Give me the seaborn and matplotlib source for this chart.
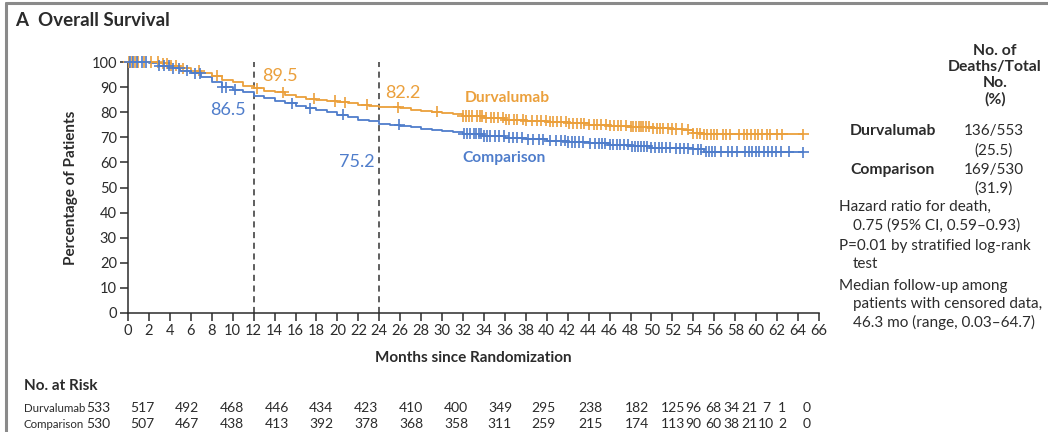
import numpy as np
import pandas as pd
import matplotlib
matplotlib.use("Agg")
import matplotlib.pyplot as plt
from matplotlib.lines import Line2D
import seaborn as sns

# Kaplan-Meier step values (percent surviving) at each month
durva_months = [0, 2, 3, 4, 5, 6, 7, 8, 9, 10, 11, 12, 13, 14, 15, 16, 17, 18, 19, 20,
                21, 22, 23, 24, 25, 26, 27, 28, 29, 30, 31, 32, 34, 36, 38, 40, 42, 44,
                46, 48, 50, 52, 53, 54, 55, 64.5]
durva_pct = [100, 100, 99.5, 98.5, 97.5, 96.5, 95.5, 94.5, 93, 92, 90.5, 89.5, 88.5, 88,
             87, 86, 85.3, 85, 84.5, 84, 83.5, 83, 82.6, 82.2, 82, 81.5, 81, 80.5, 80.2,
             79.8, 79.2, 78.5, 77.8, 77, 76.6, 76.2, 75.6, 75, 74.6, 74.2, 73.6, 73.3,
             73.0, 71.6, 71.2, 71.2]

comp_months = [0, 1, 2, 3, 4, 5, 6, 7, 8, 9, 10, 11, 12, 13, 14, 15, 16, 17, 18, 19, 20,
               21, 22, 23, 24, 25, 26, 27, 28, 29, 30, 31, 32, 34, 36, 38, 40, 42, 44,
               46, 48, 50, 52, 54, 55, 64.5]
comp_pct = [100, 100, 99.5, 98.5, 97.5, 96.5, 95.5, 94, 92, 90, 89, 88, 86.5, 85.5, 84.5,
            83.5, 82.5, 81.5, 81, 80, 79, 78, 77, 76.5, 75.2, 75, 74.5, 74, 73.5, 73,
            72.5, 72, 71.5, 70.5, 69.8, 69.2, 68.6, 68.1, 67.6, 67, 66.4, 65.9, 65.6,
            65.2, 64.2, 64.0]

# Censoring times (months)
durva_censor = [0.1, 0.4, 0.7, 1.0, 1.5, 2.2, 2.9, 3.3, 3.7, 4.1, 4.6, 5.3, 6.8, 8.5,
                12.3, 14.8, 17.8, 19.8, 20.7, 22.8, 25.8, 29.5,
                32.0, 32.3, 32.6, 32.9, 33.3, 33.6, 33.8, 34.2, 34.7, 35.0, 35.3, 35.8,
                36.1, 36.4, 36.9, 37.2, 37.7, 38.0, 38.6, 39.1, 39.4, 39.9, 40.3, 40.6,
                41.0, 41.4, 41.8, 42.1, 42.5, 42.9, 43.3, 43.6, 44.0, 44.5, 44.8, 45.2,
                45.7, 46.0, 46.4, 46.8, 47.1, 47.6, 48.0, 48.2, 48.5, 48.8, 49.0, 49.2,
                49.5, 49.8, 50.1, 50.5, 50.8, 51.1, 51.6, 52.0, 52.3, 52.9, 53.5, 54.0,
                54.3, 54.6, 55.0, 55.3, 55.7, 56.0, 56.3, 56.8, 57.1, 57.5, 58.4, 58.8,
                59.1, 59.5, 59.9, 60.2, 60.6, 61.0, 61.3, 62.0, 62.5, 64.5]
comp_censor = [0.2, 0.5, 0.9, 1.3, 1.7, 3.0, 3.4, 3.9, 4.3, 4.9, 5.6, 6.4, 6.9, 9.0, 9.4,
               10.2, 15.7, 17.4, 20.5, 25.9,
               32.1, 32.4, 32.7, 33.0, 33.2, 33.5, 33.7, 34.0, 34.3, 34.6, 35.1, 35.4,
               35.9, 36.4, 36.8, 37.2, 37.6, 38.2, 38.7, 39.3, 39.6, 40.3, 40.9, 41.4,
               41.7, 42.0, 42.4, 42.7, 43.1, 43.5, 44.1, 44.6, 45.0, 45.3, 45.6, 46.0,
               46.3, 46.7, 47.0, 47.4, 47.8, 48.1, 48.4, 48.7, 49.0, 49.3, 49.6, 50.0,
               50.3, 50.7, 51.0, 51.4, 51.8, 52.3, 52.7, 53.1, 53.5, 54.0, 54.4, 54.7,
               55.2, 55.5, 55.8, 56.1, 56.6, 57.3, 57.7, 58.2, 58.9, 59.3, 59.6, 60.0,
               60.3, 60.7, 61.1, 61.5, 61.9, 62.4, 63.1, 64.5]

landmark_months = [12, 24]
durva_landmark = [89.5, 82.2]
comp_landmark = [86.5, 75.2]

x_ticks = list(range(0, 67, 2))
y_ticks = list(range(0, 101, 10))

risk_durva = [533, 517, 492, 468, 446, 434, 423, 410, 400, 349, 295, 238, 182, 125, 96,
              68, 34, 21, 7, 1, 0]
risk_comp = [530, 507, 467, 438, 413, 392, 378, 368, 358, 311, 259, 215, 174, 113, 90,
             60, 38, 21, 10, 2, 0]

ORANGE = "#EBA03C"
BLUE = "#4F7DCB"
INK = "#2b2b2b"

sns.set_theme(style="ticks")
plt.rcParams["font.family"] = ["Lato", "DejaVu Sans"]

W, H = 1048, 432
fig = plt.figure(figsize=(W / 100, H / 100), dpi=100)


def fx(x):
    return x / W


def fy(y):
    return 1 - y / H


ax = fig.add_axes([fx(128), fy(313), fx(819 - 128), (313 - 62) / H])

curves = pd.concat([
    pd.DataFrame({"month": durva_months, "pct": durva_pct, "arm": "Durvalumab"}),
    pd.DataFrame({"month": comp_months, "pct": comp_pct, "arm": "Comparison"}),
])
palette = {"Durvalumab": ORANGE, "Comparison": BLUE}
sns.lineplot(data=curves, x="month", y="pct", hue="arm", palette=palette,
             drawstyle="steps-post", estimator=None, linewidth=1.3, legend=False,
             ax=ax, clip_on=False, zorder=3)


def step_value(months, pct, t):
    idx = np.searchsorted(months, t, side="right") - 1
    return np.asarray(pct)[idx]


censor = pd.concat([
    pd.DataFrame({"month": durva_censor,
                  "pct": step_value(durva_months, durva_pct, durva_censor),
                  "arm": "Durvalumab"}),
    pd.DataFrame({"month": comp_censor,
                  "pct": step_value(comp_months, comp_pct, comp_censor),
                  "arm": "Comparison"}),
])
sns.scatterplot(data=censor, x="month", y="pct", hue="arm", palette=palette,
                marker="+", s=65, linewidth=1.2, legend=False, ax=ax,
                clip_on=False, zorder=4)

for m in landmark_months:
    ax.axvline(m, ymin=0, ymax=1, color="#333333", linestyle=(0, (4, 3)),
               linewidth=1.1, zorder=2)

# landmark survival labels
lfs = 13
ax.text(landmark_months[0] + 0.8, durva_landmark[0] + 5.0, f"{durva_landmark[0]}",
        color=ORANGE, fontsize=lfs, ha="left", va="center")
ax.text(landmark_months[1] + 0.6, durva_landmark[1] + 5.5, f"{durva_landmark[1]}",
        color=ORANGE, fontsize=lfs, ha="left", va="center")
ax.text(landmark_months[0] - 0.8, comp_landmark[0] - 5.7, f"{comp_landmark[0]}",
        color=BLUE, fontsize=lfs, ha="right", va="center")
ax.text(landmark_months[1] - 0.4, comp_landmark[1] - 15.0, f"{comp_landmark[1]}",
        color=BLUE, fontsize=lfs, ha="right", va="center")

# arm labels next to the curves
ax.text(32.2, 85.8, "Durvalumab", color=ORANGE, fontsize=11.2, fontweight="bold",
        ha="left", va="center")
ax.text(31.9, 61.8, "Comparison", color=BLUE, fontsize=11.2, fontweight="bold",
        ha="left", va="center")

ax.set_xlim(0, 66)
ax.set_ylim(0, 100)
ax.set_xticks(x_ticks)
ax.set_yticks(y_ticks)
ax.tick_params(axis="both", direction="out", length=6, width=1.1, color=INK,
               labelcolor=INK, labelsize=10.5, pad=2)
for side in ("top", "right"):
    ax.spines[side].set_visible(False)
for side in ("left", "bottom"):
    ax.spines[side].set_color(INK)
    ax.spines[side].set_linewidth(1.1)
ax.set_xlabel("Months since Randomization", fontsize=11, fontweight="bold",
              color=INK, labelpad=9)
ax.set_ylabel("Percentage of Patients", fontsize=11, fontweight="bold",
              color=INK, labelpad=10)

# panel frame
fig.add_artist(Line2D([fx(6), fx(6)], [fy(3), 0], color="#8a8a8a", linewidth=2.2))
fig.add_artist(Line2D([fx(6), 1], [fy(3), fy(3)], color="#8a8a8a", linewidth=2.2))

fig.text(fx(15), fy(21), "A", fontsize=13.5, fontweight="bold", color=INK,
         ha="left", va="center")
fig.text(fx(38), fy(21), "Overall Survival", fontsize=13.5, fontweight="bold",
         color=INK, ha="left", va="center")

# summary block on the right
fs = 11
fig.text(fx(995), fy(44), "No. of\nDeaths/Total\nNo.\n(%)", fontsize=11.3,
         fontweight="bold", color=INK, ha="center", va="top", linespacing=1.18)
fig.text(fx(893), fy(131), "Durvalumab", fontsize=11.3, fontweight="bold", color=INK,
         ha="center", va="center")
fig.text(fx(893), fy(170), "Comparison", fontsize=11.3, fontweight="bold", color=INK,
         ha="center", va="center")
fig.text(fx(994), fy(131), "136/553", fontsize=fs, color=INK, ha="center", va="center")
fig.text(fx(994), fy(151), "(25.5)", fontsize=fs, color=INK, ha="center", va="center")
fig.text(fx(994), fy(170), "169/530", fontsize=fs, color=INK, ha="center", va="center")
fig.text(fx(994), fy(189), "(31.9)", fontsize=fs, color=INK, ha="center", va="center")
notes = [
    (839, 207, "Hazard ratio for death,"),
    (853, 226, "0.75 (95% CI, 0.59\u20130.93)"),
    (839, 246, "P=0.01 by stratified log-rank"),
    (853, 264, "test"),
    (839, 286, "Median follow-up among"),
    (853, 304, "patients with censored data,"),
    (853, 322, "46.3 mo (range, 0.03\u201364.7)"),
]
for x, y, s in notes:
    fig.text(fx(x), fy(y), s, fontsize=fs, color=INK, ha="left", va="center")

# number-at-risk table
fig.text(fx(24), fy(386), "No. at Risk", fontsize=11, fontweight="bold", color=INK,
         ha="left", va="center")
fig.text(fx(24), fy(408), "Durvalumab", fontsize=8.3, color=INK, ha="left", va="center")
fig.text(fx(24), fy(424), "Comparison", fontsize=8.3, color=INK, ha="left", va="center")
risk_x = [98, 142, 187, 232, 277, 321, 366, 411, 456, 500, 543, 590, 637, 673, 693,
          713, 731, 749, 766, 782, 807]
for x, a, b in zip(risk_x, risk_durva, risk_comp):
    fig.text(fx(x), fy(408), str(a), fontsize=10, color=INK, ha="center", va="center")
    fig.text(fx(x), fy(424), str(b), fontsize=10, color=INK, ha="center", va="center")

fig.savefig("out.png", dpi=100, facecolor="white")
